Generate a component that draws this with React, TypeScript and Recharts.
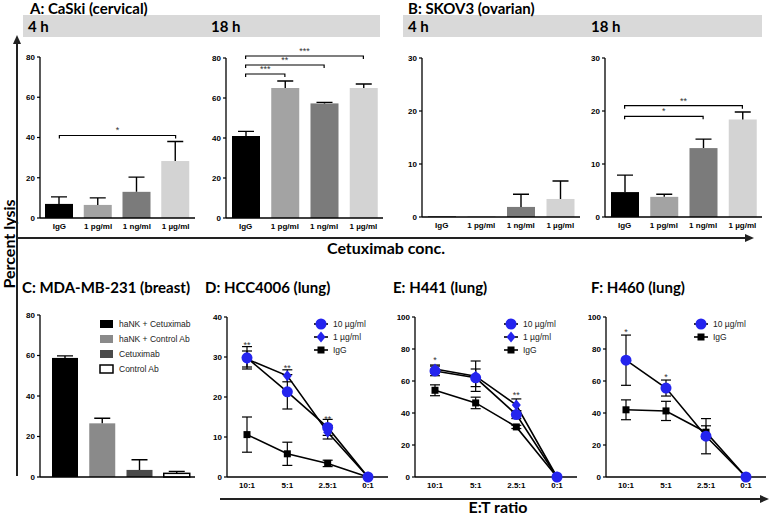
import React from "react";
import {
  BarChart,
  Bar,
  Cell,
  XAxis,
  YAxis,
  ReferenceLine,
  ReferenceDot,
  ComposedChart,
  Line,
  ErrorBar,
} from "recharts";

const HEAD_FONT = "Lato, 'Open Sans', sans-serif";
const TICK_FONT = "'Liberation Sans', Arial, sans-serif";
const BLUE = "#2424ee";

// top row: % lysis vs cetuximab concentration
const concLabels = ["IgG", "1 pg/ml", "1 ng/ml", "1 µg/ml"];
const concColors = ["#000000", "#a3a3a3", "#7b7b7b", "#d3d3d3"];
const caski4h = [7, 6.5, 13, 28.3];
const caski4hErr = [3.5, 3.5, 7.3, 9.7];
const caski18h = [41, 65, 57.3, 65];
const caski18hErr = [2.3, 3.5, 0.5, 2];
const skov4h = [0.1, 0.1, 1.9, 3.4];
const skov4hErr = [0, 0, 2.4, 3.4];
const skov18h = [4.7, 3.8, 13, 18.4];
const skov18hErr = [3.2, 0.5, 1.7, 1.4];

// C: breast
const breastGroups = ["haNK + Cetuximab", "haNK + Control Ab", "Cetuximab", "Control Ab"];
const breastColors = ["#000000", "#8a8a8a", "#4a4a4a", "#ffffff"];
const breastLysis = [58.8, 26.5, 3.5, 1.8];
const breastErr = [1, 2.5, 5, 1];

// D-F: lung, E:T ratio
const etRatios = ["10:1", "5:1", "2.5:1", "0:1"];
const hccIgG = [10.6, 5.8, 3.4, 0];
const hccIgGErr = [4.4, 2.9, 0.8, 0];
const hcc1 = [29.5, 25.3, 11.2, 0];
const hcc1Err = [2.0, 1.5, 1.7, 0];
const hcc10 = [29.8, 21.3, 12.4, 0];
const hcc10Err = [2.8, 4.3, 2, 0];
const hccStars = ["**", "**", "**", ""];
const hccStarY = [33, 27.2, 14.5, 0];

const h441IgG = [54.2, 46.3, 31.3, 0];
const h441IgGErr = [3.4, 3.6, 1, 0];
const h4411 = [67.5, 63, 45, 0];
const h4411Err = [2.5, 9.5, 3.8, 0];
const h44110 = [66.3, 62, 39, 0];
const h44110Err = [3, 5.5, 2.5, 0];
const h441Stars = ["*", "", "**", ""];
const h441StarY = [73.5, 0, 51.5, 0];

const h460IgG = [42, 41.3, 28, 0];
const h460IgGErr = [6.2, 6, 4, 0];
const h46010 = [73, 55.6, 25.5, 0];
const h46010Err = [15.7, 5, 11, 0];
const h460Stars = ["*", "*", "", ""];
const h460StarY = [91, 62.5, 0, 0];

type Bracket = { from: number; to: number; y: number; mark: string };

const caski4hBrackets: Bracket[] = [{ from: 0, to: 3, y: 41, mark: "*" }];
const caski18hBrackets: Bracket[] = [
  { from: 0, to: 1, y: 72, mark: "***" },
  { from: 0, to: 2, y: 76.5, mark: "**" },
  { from: 0, to: 3, y: 81, mark: "***" },
];
const skov18hBrackets: Bracket[] = [
  { from: 0, to: 2, y: 19, mark: "*" },
  { from: 0, to: 3, y: 21, mark: "**" },
];

const tickStyle = { fontSize: 8, fontWeight: 700, fill: "#000", fontFamily: TICK_FONT };
const axisStyle = { stroke: "#000", strokeWidth: 1.3 };

const ErrBarShape = (p: any) => {
  const { x, y, width, height, payload, fill } = p;
  const per = payload.v > 0 ? height / payload.v : 0;
  const top = y - payload.e * per;
  const cx = x + width / 2;
  return (
    <g>
      <rect
        x={x}
        y={y}
        width={width}
        height={height}
        fill={fill}
        stroke={fill === "#ffffff" ? "#000" : "none"}
        strokeWidth={1.5}
      />
      {payload.e > 0 && (
        <path
          d={`M${cx},${y}V${top}M${cx - 8},${top}H${cx + 8}`}
          stroke="#000"
          strokeWidth={1.4}
          fill="none"
        />
      )}
    </g>
  );
};

const BracketShape = (p: any) => (
  <path
    d={`M${p.x1},${p.y1 + 3}V${p.y1}H${p.x2}V${p.y2 + 3}`}
    stroke="#000"
    strokeWidth={1.2}
    fill="none"
  />
);

type BarPanelProps = {
  x: number;
  y: number;
  w: number;
  h: number;
  max: number;
  ticks: number[];
  labels: string[];
  values: number[];
  errs: number[];
  colors: string[];
  brackets?: Bracket[];
  barSize?: number;
  showLabels?: boolean;
  padLeft?: number;
};

function BarPanel(props: BarPanelProps) {
  const { x, y, w, h, max, ticks, labels, values, errs, colors } = props;
  const brackets = props.brackets ?? [];
  const showLabels = props.showLabels ?? true;
  const rows = labels.map((name, i) => ({ name, v: values[i], e: errs[i] }));
  const mTop = 30;
  const yW = 30;
  const mR = 4;
  const xH = 22;
  return (
    <div style={{ position: "absolute", left: x - yW, top: y - mTop }}>
      <BarChart
        width={yW + w + mR}
        height={mTop + h + xH}
        data={rows}
        margin={{ top: mTop, right: mR, left: 0, bottom: 0 }}
        barSize={props.barSize ?? 28}
      >
        <XAxis
          dataKey="name"
          height={xH}
          interval={0}
          axisLine={axisStyle}
          tickLine={showLabels ? false : { stroke: "#888", strokeWidth: 1 }}
          tickSize={showLabels ? 3 : 5}
          tick={showLabels ? tickStyle : false}
          padding={{ left: props.padLeft ?? 0, right: 0 }}
        />
        <YAxis
          width={yW}
          domain={[0, max]}
          ticks={ticks}
          interval={0}
          axisLine={axisStyle}
          tickLine={{ stroke: "#000", strokeWidth: 1.2 }}
          tickSize={3}
          tickMargin={2}
          tick={tickStyle}
        />
        <Bar dataKey="v" shape={ErrBarShape} isAnimationActive={false}>
          {rows.map((_, i) => (
            <Cell key={i} fill={colors[i]} />
          ))}
        </Bar>
        {brackets.map((b, i) => (
          <ReferenceLine
            key={i}
            segment={[
              { x: labels[b.from], y: b.y },
              { x: labels[b.to], y: b.y },
            ]}
            ifOverflow="visible"
            shape={BracketShape}
            label={{ value: b.mark, position: "top", offset: 2, fontSize: 9, fill: "#333", fontFamily: TICK_FONT }}
          />
        ))}
      </BarChart>
    </div>
  );
}

type Series = { name: string; values: number[]; errs: number[]; marker: string };

const Marker = ({ kind, cx, cy }: { kind: string; cx: number; cy: number }) => {
  if (kind === "circle") return <circle cx={cx} cy={cy} r={5.5} fill={BLUE} />;
  if (kind === "diamond")
    return (
      <path
        d={`M${cx},${cy - 5.5}L${cx + 4.5},${cy}L${cx},${cy + 5.5}L${cx - 4.5},${cy}Z`}
        fill={BLUE}
      />
    );
  return <rect x={cx - 3.5} y={cy - 3.5} width={7} height={7} fill="#000" />;
};

type LinePanelProps = {
  x: number;
  y: number;
  w: number;
  h: number;
  max: number;
  ticks: number[];
  series: Series[];
  stars: string[];
  starY: number[];
  legendX: number;
};

function LinePanel(props: LinePanelProps) {
  const { x, y, w, h, max, ticks, series, stars, starY, legendX } = props;
  const rows = etRatios.map((r, i) => {
    const row: Record<string, any> = { r };
    series.forEach((s, k) => {
      row[`s${k}`] = s.values[i];
      row[`e${k}`] = s.errs[i];
    });
    return row;
  });
  const mTop = 20;
  const yW = 30;
  const mR = 4;
  const xH = 22;
  const legend = [...series].reverse();
  return (
    <>
      <div style={{ position: "absolute", left: x - yW, top: y - mTop }}>
        <ComposedChart
          width={yW + w + mR}
          height={mTop + h + xH}
          data={rows}
          margin={{ top: mTop, right: mR, left: 0, bottom: 0 }}
        >
          <XAxis
            dataKey="r"
            height={xH}
            interval={0}
            axisLine={axisStyle}
            tickLine={false}
            tickSize={3}
            tick={tickStyle}
            padding={{ left: 20, right: 20 }}
          />
          <YAxis
            width={yW}
            domain={[0, max]}
            ticks={ticks}
            interval={0}
            axisLine={axisStyle}
            tickLine={{ stroke: "#000", strokeWidth: 1.2 }}
            tickSize={3}
            tickMargin={2}
            tick={tickStyle}
          />
          {series.map((s, k) => (
            <Line
              key={s.name}
              dataKey={`s${k}`}
              stroke="#000"
              strokeWidth={1.6}
              isAnimationActive={false}
              activeDot={false}
              dot={(p: any) => <Marker key={`${k}-${p.index}`} kind={s.marker} cx={p.cx} cy={p.cy} />}
            >
              <ErrorBar dataKey={`e${k}`} width={5} stroke="#000" strokeWidth={1.2} />
            </Line>
          ))}
          {stars.map((m, i) =>
            m ? (
              <ReferenceDot
                key={i}
                x={etRatios[i]}
                y={starY[i]}
                r={0}
                fill="none"
                stroke="none"
                ifOverflow="visible"
                label={{ value: m, position: "center", fontSize: 9, fill: "#333", fontFamily: TICK_FONT }}
              />
            ) : null
          )}
        </ComposedChart>
      </div>
      <svg
        width={80}
        height={50}
        style={{ position: "absolute", left: legendX - 8, top: 316 }}
      >
        {legend.map((s, i) => (
          <g key={s.name} transform={`translate(8, ${8 + i * 13})`}>
            <line x1={-7} x2={7} y1={0} y2={0} stroke="#000" strokeWidth={1.6} />
            <Marker kind={s.marker} cx={0} cy={0} />
            <text x={12} y={3} fontSize={8.5} fontFamily={TICK_FONT} fill="#222">
              {s.name}
            </text>
          </g>
        ))}
      </svg>
    </>
  );
}

function Frame() {
  return (
    <svg width={771} height={516} style={{ position: "absolute", left: 0, top: 0 }}>
      <rect x={23} y={15} width={357} height={22} fill="#d9d9d9" />
      <rect x={403} y={15} width={359} height={22} fill="#d9d9d9" />
      <g fontFamily={HEAD_FONT} fontWeight={700} fill="#000">
        <text x={30} y={13.5} fontSize={15}>A: CaSki (cervical)</text>
        <text x={408} y={13.5} fontSize={15}>B: SKOV3 (ovarian)</text>
        <text x={28} y={31.5} fontSize={15}>4 h</text>
        <text x={211} y={31.5} fontSize={15}>18 h</text>
        <text x={408} y={31.5} fontSize={15}>4 h</text>
        <text x={591} y={31.5} fontSize={15}>18 h</text>
        <text x={22} y={293} fontSize={15}>C: MDA-MB-231 (breast)</text>
        <text x={205} y={293} fontSize={15}>D: HCC4006 (lung)</text>
        <text x={393} y={293} fontSize={15}>E: H441 (lung)</text>
        <text x={591} y={293} fontSize={15}>F: H460 (lung)</text>
        <text x={386} y={254} fontSize={16} textAnchor="middle">Cetuximab conc.</text>
        <text x={498} y={513} fontSize={16} textAnchor="middle">E:T ratio</text>
        <text x={0} y={0} fontSize={16} textAnchor="middle" transform="translate(15, 244) rotate(-90)">
          Percent lysis
        </text>
      </g>
      <g stroke="#222" strokeWidth={2} fill="#222">
        <line x1={17} y1={42} x2={17} y2={476} />
        <polygon points="17,35 13,44 21,44" stroke="none" />
        <line x1={17} y1={238} x2={747} y2={238} />
        <polygon points="754,238 745,234 745,242" stroke="none" />
        <line x1={220} y1={499} x2={762} y2={499} />
        <polygon points="769,499 760,495 760,503" stroke="none" />
      </g>
      {breastGroups.map((g, i) => (
        <g key={g} transform={`translate(100, ${324 + i * 15})`}>
          <rect
            x={0}
            y={-4}
            width={13}
            height={8}
            fill={breastColors[i]}
            stroke={breastColors[i] === "#ffffff" ? "#000" : "none"}
            strokeWidth={1.5}
          />
          <text x={19} y={3} fontSize={8.5} fontFamily={TICK_FONT} fill="#222">
            {g}
          </text>
        </g>
      ))}
    </svg>
  );
}

export default function App() {
  return (
    <div
      style={{
        position: "absolute",
        left: 0,
        top: 0,
        width: 771,
        height: 516,
        background: "#fff",
        overflow: "hidden",
      }}
    >
      <Frame />
      <BarPanel x={40} y={57} w={155} h={161} max={80} ticks={[0, 20, 40, 60, 80]}
        labels={concLabels} values={caski4h} errs={caski4hErr} colors={concColors} brackets={caski4hBrackets} />
      <BarPanel x={226} y={58} w={157} h={160} max={80} ticks={[0, 20, 40, 60, 80]}
        labels={concLabels} values={caski18h} errs={caski18hErr} colors={concColors} brackets={caski18hBrackets} />
      <BarPanel x={422} y={58} w={158} h={159} max={30} ticks={[0, 10, 20, 30]}
        labels={concLabels} values={skov4h} errs={skov4hErr} colors={concColors} />
      <BarPanel x={605} y={58} w={157} h={159} max={30} ticks={[0, 10, 20, 30]}
        labels={concLabels} values={skov18h} errs={skov18hErr} colors={concColors} brackets={skov18hBrackets} />
      <BarPanel x={40} y={315} w={155} h={162} max={80} ticks={[0, 20, 40, 60, 80]}
        labels={breastGroups} values={breastLysis} errs={breastErr} colors={breastColors}
        barSize={26} showLabels={false} padLeft={6} />
      <LinePanel x={227} y={317} w={161} h={160} max={40} ticks={[0, 10, 20, 30, 40]}
        series={[
          { name: "IgG", values: hccIgG, errs: hccIgGErr, marker: "square" },
          { name: "1 µg/ml", values: hcc1, errs: hcc1Err, marker: "diamond" },
          { name: "10 µg/ml", values: hcc10, errs: hcc10Err, marker: "circle" },
        ]}
        stars={hccStars} starY={hccStarY} legendX={321} />
      <LinePanel x={415} y={317} w={162} h={160} max={100} ticks={[0, 20, 40, 60, 80, 100]}
        series={[
          { name: "IgG", values: h441IgG, errs: h441IgGErr, marker: "square" },
          { name: "1 µg/ml", values: h4411, errs: h4411Err, marker: "diamond" },
          { name: "10 µg/ml", values: h44110, errs: h44110Err, marker: "circle" },
        ]}
        stars={h441Stars} starY={h441StarY} legendX={511} />
      <LinePanel x={606} y={317} w={160} h={160} max={100} ticks={[0, 20, 40, 60, 80, 100]}
        series={[
          { name: "IgG", values: h460IgG, errs: h460IgGErr, marker: "square" },
          { name: "10 µg/ml", values: h46010, errs: h46010Err, marker: "circle" },
        ]}
        stars={h460Stars} starY={h460StarY} legendX={701} />
    </div>
  );
}
